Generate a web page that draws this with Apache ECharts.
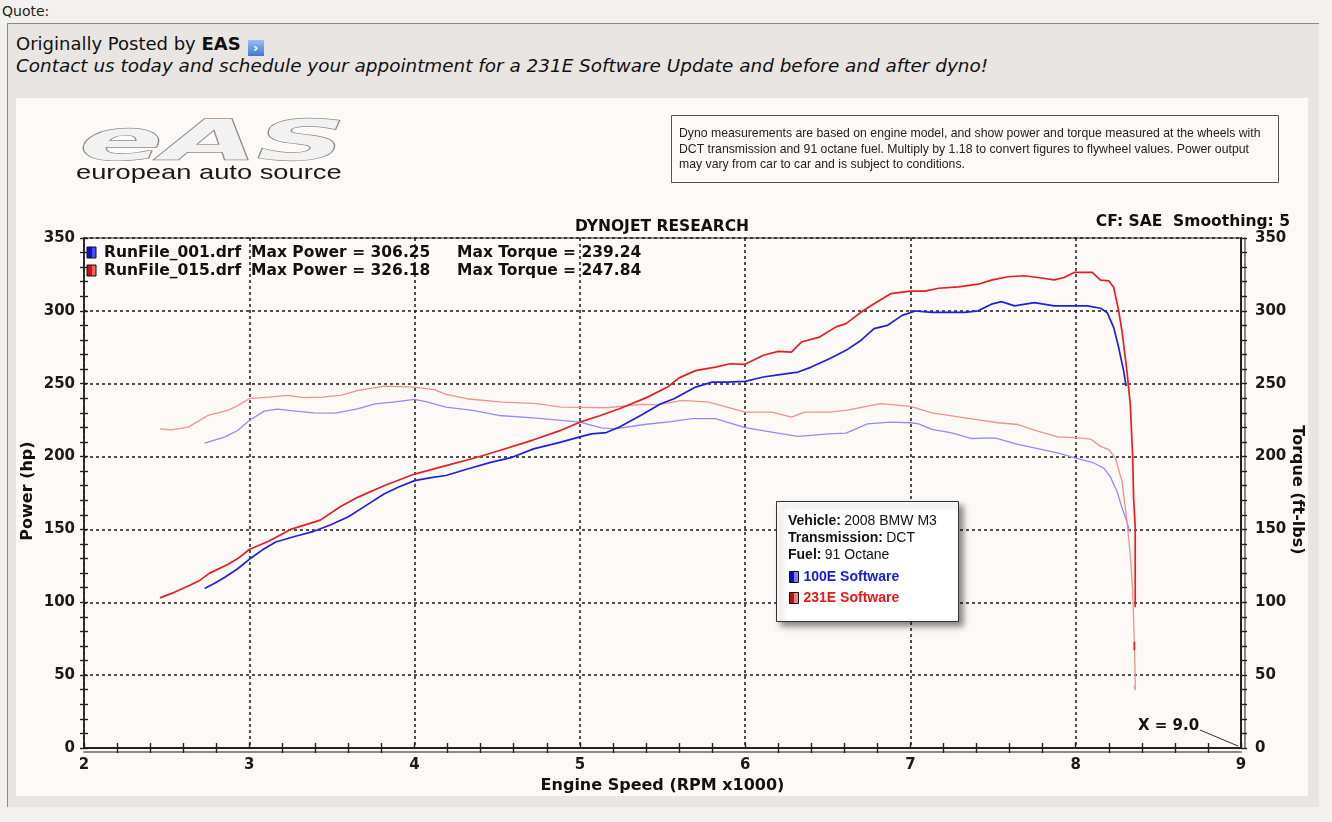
<!DOCTYPE html>
<html>
<head>
<meta charset="utf-8">
<script src="https://cdn.jsdelivr.net/npm/echarts@6/dist/echarts.min.js"></script>
<style>
  html,body{margin:0;padding:0;}
  body{width:1332px;height:822px;background:#f3f1ef;position:relative;overflow:hidden;font-family:"DejaVu Sans",Verdana,sans-serif;color:#111;}
  #quoteLbl{position:absolute;left:2px;top:3px;font-size:14px;color:#222;}
  #box{position:absolute;left:7px;top:23px;width:1311px;height:783px;background:#e8e5e3;border-top:1px solid #8a8a8a;border-left:1px solid #8a8a8a;}
  #posted{position:absolute;left:16px;top:33px;font-size:18px;color:#111;}
  #posted b{font-weight:bold;}
  #icon{display:inline-block;width:16px;height:16px;vertical-align:-2px;margin-left:7px;background:linear-gradient(#9cc0ec,#3f78c8);color:#fff;font-size:13px;line-height:16px;text-align:center;font-weight:bold;}
  #contact{position:absolute;left:16px;top:55px;font-size:18.4px;font-style:italic;color:#111;}
  #chart{position:absolute;left:16px;top:98px;width:1292px;height:698px;background:#fdf9f6;}
</style>
</head>
<body>
<div id="quoteLbl">Quote:</div>
<div id="box"></div>
<div id="posted">Originally Posted by <b>EAS</b><span id="icon">›</span></div>
<div id="contact">Contact us today and schedule your appointment for a 231E Software Update and before and after dyno!</div>
<div id="chart"></div>
<script>
// ---- data ----
const bluePowerRpm = [2.73,2.79,2.85,2.93,3.0,3.08,3.16,3.28,3.39,3.49,3.6,3.7,3.815,3.9,4.0,4.1,4.19,4.32,4.46,4.59,4.72,4.885,5.0,5.07,5.16,5.24,5.37,5.49,5.57,5.7,5.8,5.89,6.0,6.11,6.22,6.32,6.4,6.51,6.61,6.7,6.78,6.86,6.95,7.03,7.13,7.23,7.33,7.41,7.49,7.55,7.63,7.75,7.87,8.0,8.07,8.15,8.19,8.23,8.26,8.29,8.305];
const bluePower    = [109.5,113,117,123,129.5,136,141.4,145.3,148.7,153,158.7,166,174.3,179,183.5,185.5,187,191.5,196,199.5,205.3,209.9,213.5,215.6,216.5,220.3,228.3,236.3,239.7,247.7,251.1,251.1,251.6,254.6,256.4,258,261.4,267.2,272.9,279.7,287.8,290,296.9,299.9,298.9,298.9,298.9,300,304.6,306.3,303.4,305.7,303.4,303.4,303.4,301.8,298.9,288.5,274.8,258.7,248.4];

const redPowerRpm = [2.46,2.55,2.64,2.7,2.76,2.87,2.93,3.0,3.12,3.25,3.43,3.55,3.655,3.815,4.0,4.19,4.38,4.51,4.72,4.885,5.0,5.12,5.24,5.41,5.53,5.6,5.7,5.82,5.91,6.0,6.11,6.2,6.28,6.34,6.45,6.55,6.61,6.7,6.78,6.88,7.0,7.09,7.17,7.29,7.41,7.49,7.59,7.69,7.77,7.87,7.93,7.99,8.1,8.15,8.2,8.23,8.26,8.28,8.31,8.33,8.345,8.35,8.36,8.36,8.358,8.355,8.355];
const redPower    = [103,107,111.7,115,120,125.9,130,136.2,142,150,156.4,165.6,172,180,188,193.8,199.5,204,211.5,218,223.6,228,232.8,240.8,247.7,254,259,261.4,263.7,263.3,269.5,272.2,271.7,278.6,282,289,291.2,299,304.9,311.8,313.5,313.5,315.5,316.5,318.3,321.1,323.4,324.1,322.9,321.3,322.9,326.4,326.4,321.1,320.6,316,300,286,258.7,235.8,199.5,172,151.6,96.6,'-',73,67];

const blueTorqueRpm = [2.73,2.85,2.93,3.0,3.09,3.17,3.28,3.39,3.52,3.655,3.76,3.87,4.0,4.08,4.19,4.35,4.51,4.72,4.885,5.0,5.13,5.21,5.39,5.55,5.68,5.82,6.0,6.16,6.32,6.51,6.61,6.74,6.88,7.0,7.05,7.13,7.25,7.37,7.51,7.65,7.77,7.89,8.0,8.11,8.17,8.21,8.25,8.28,8.31,8.33];
const blueTorque    = [209.2,213.3,217.9,224.8,231.2,232.6,231.2,230,229.8,232.8,236.2,237.4,239.2,237.4,234,231.7,228.2,226.6,224.8,223.7,219.7,219,222,224,226,226,219.8,216.8,213.8,215.6,216.1,222.5,223.7,223.2,222.5,218.6,216.3,212.4,212.8,208.3,205.5,202.5,199,195.6,192,186,176,165,155,148];

const redTorqueRpm = [2.46,2.53,2.63,2.75,2.87,2.93,3.0,3.12,3.23,3.33,3.44,3.55,3.66,3.82,4.0,4.12,4.19,4.33,4.53,4.74,4.885,5.0,5.16,5.37,5.47,5.62,5.78,6.0,6.16,6.28,6.36,6.51,6.61,6.82,7.0,7.13,7.33,7.53,7.65,7.77,7.89,8.0,8.09,8.15,8.2,8.24,8.28,8.31,8.33,8.345,8.353,8.36,8.36,8.353];
const redTorque    = [219,218.3,220.2,228.2,231.7,235,239.7,240.8,242,240.4,240.8,242,245.4,248.4,247.7,245.9,242.7,239.5,237.4,236.3,234,233.8,233.5,235.8,235.5,238.6,237.4,230.5,230.5,227.1,230.5,230.5,231.7,236.3,234.4,230,226.6,223.2,222,217.4,213.5,213,212,207,204.8,199,183,155.5,132.6,107.3,77.5,50,39.7,43];

const runFiles  = ['RunFile_001.drf', 'RunFile_015.drf'];
const maxPower  = ['306.25', '326.18'];
const maxTorque = ['239.24', '247.84'];
const softwareNames = ['100E Software', '231E Software'];
const axisNames = {x:'Engine Speed (RPM x1000)', left:'Power (hp)', right:'Torque (ft-lbs)'};
const infoLines = [['Vehicle:', '2008 BMW M3'], ['Transmission:', 'DCT'], ['Fuel:', '91 Octane']];
const disclaimer = [
  'Dyno measurements are based on engine model, and show power and torque measured at the wheels with',
  'DCT transmission and 91 octane fuel. Multiply by 1.18 to convert figures to flywheel values. Power output',
  'may vary from car to car and is subject to conditions.'
];
const xTicks = [2, 9, 1];      // min, max, interval
const yTicks = [0, 350, 50];

function pairs(xs, ys){ return xs.map((x,i)=>[x, ys[i]]); }

// ---- colours ----
const BLUE = '#2020dc', RED = '#e61e24', LBLUE = '#8e8ef2', LRED = '#f29090';
const F = '"DejaVu Sans", Verdana, sans-serif';
const A = '"Liberation Sans", Arial, sans-serif';

const chart = echarts.init(document.getElementById('chart'), null, {renderer:'canvas'});

const axisLabel = {fontFamily:F, fontWeight:'bold', fontSize:15, color:'#1a1a1a'};
const dashed = {color:'#1a1a1a', width:1.5, type:[3,3]};
const legendFont = 'bold 15.5px "DejaVu Sans"';
const nameFont = 'bold 16px "DejaVu Sans"';
function halfIcon(dark, light){
  return {type:'linear', x:0, y:0, x2:1, y2:0, colorStops:[{offset:0, color:dark},{offset:0.5, color:dark},{offset:0.5, color:light},{offset:1, color:light}]};
}

const option = {
  animation:false,
  backgroundColor:'#fdf9f6',
  title:[
    {text:'DYNOJET RESEARCH', left:'center', top:116, textStyle:{fontFamily:F, fontWeight:'bold', fontSize:15.5, color:'#111'}},
    {text:'CF: SAE  Smoothing: 5', right:13, top:111, textStyle:{fontFamily:F, fontWeight:'bold', fontSize:15.5, color:'#111'}}
  ],
  grid:{left:68, top:140, right:67, bottom:48, containLabel:false, outerBoundsMode:'none', show:true, borderColor:'#222', borderWidth:1.2, backgroundColor:'transparent'},
  legend:{
    orient:'vertical', left:773, top:472, padding:0, itemWidth:9, itemHeight:11, itemGap:7, z:20,
    data:[
      {name:softwareNames[0], icon:'rect', itemStyle:{color:halfIcon('#1010b0','#8080ff'), borderColor:'#111', borderWidth:1}, textStyle:{color:'#1818e0'}},
      {name:softwareNames[1], icon:'rect', itemStyle:{color:halfIcon('#c01010','#ff8080'), borderColor:'#111', borderWidth:1}, textStyle:{color:'#e81818'}}
    ],
    textStyle:{fontFamily:A, fontWeight:'bold', fontSize:14}
  },
  xAxis:[{
    type:'value', min:xTicks[0], max:xTicks[1], interval:xTicks[2],
    name:axisNames.x, nameLocation:'middle', nameGap:26,
    nameTextStyle:{fontFamily:F, fontWeight:'bold', fontSize:16, color:'#111'},
    axisLine:{show:true, onZero:false, lineStyle:{color:'#222', width:2, shadowColor:'#8a8a8a', shadowOffsetY:4, shadowBlur:0}},
    axisTick:{show:false},
    minorTick:{show:true, splitNumber:5, length:5, lineStyle:{color:'#222', width:1.4}},
    axisLabel:Object.assign({margin:10}, axisLabel),
    splitLine:{show:true, lineStyle:dashed}
  },{
    type:'value', min:xTicks[0], max:xTicks[1], interval:xTicks[2], position:'bottom',
    axisLine:{show:false}, axisLabel:{show:false}, splitLine:{show:false},
    axisTick:{show:true, inside:true, length:5, lineStyle:{color:'#222', width:1.4}},
    minorTick:{show:true, splitNumber:5, length:5, lineStyle:{color:'#222', width:1.4}}
  }],
  yAxis:[{
    type:'value', min:yTicks[0], max:yTicks[1], interval:yTicks[2], position:'left',
    axisLine:{show:true, lineStyle:{color:'#222', width:1.6}},
    axisTick:{show:true, length:4, lineStyle:{color:'#222', width:1.4}},
    minorTick:{show:true, splitNumber:5, length:4, lineStyle:{color:'#222', width:1.4}},
    axisLabel:Object.assign({margin:9}, axisLabel),
    splitLine:{show:true, lineStyle:dashed}
  },{
    type:'value', min:yTicks[0], max:yTicks[1], interval:yTicks[2], position:'right',
    axisLine:{show:true, lineStyle:{color:'#222', width:2, shadowColor:'#8a8a8a', shadowOffsetX:4, shadowBlur:0}},
    axisTick:{show:true, length:6, lineStyle:{color:'#222', width:1.4}},
    minorTick:{show:true, splitNumber:5, length:6, lineStyle:{color:'#222', width:1.4}},
    axisLabel:Object.assign({margin:14}, axisLabel),
    splitLine:{show:false}
  },{
    type:'value', min:yTicks[0], max:yTicks[1], interval:yTicks[2], position:'left', offset:0,
    axisLine:{show:false}, axisLabel:{show:false}, splitLine:{show:false},
    axisTick:{show:true, inside:true, length:4, lineStyle:{color:'#222', width:1.4}},
    minorTick:{show:true, splitNumber:5, length:4, lineStyle:{color:'#222', width:1.4}}
  }],
  series:[
    {name:'100E Torque', type:'line', yAxisIndex:1, data:pairs(blueTorqueRpm, blueTorque), showSymbol:false, symbol:'none', lineStyle:{color:LBLUE, width:1.3}, itemStyle:{color:LBLUE}, z:2},
    {name:'231E Torque', type:'line', yAxisIndex:1, data:pairs(redTorqueRpm, redTorque), showSymbol:false, symbol:'none', lineStyle:{color:LRED, width:1.3}, itemStyle:{color:LRED}, z:2},
    {name:softwareNames[0], type:'line', data:pairs(bluePowerRpm, bluePower), showSymbol:false, symbol:'none', lineStyle:{color:BLUE, width:1.7}, itemStyle:{color:BLUE}, z:3},
    {name:softwareNames[1], type:'line', data:pairs(redPowerRpm, redPower), showSymbol:false, symbol:'none', connectNulls:false, lineStyle:{color:RED, width:1.7}, itemStyle:{color:RED}, z:3}
  ],
  graphic:[
    // y-axis names
    {type:'text', x:12, y:393, rotation:Math.PI/2, style:{text:axisNames.left, font:nameFont, fill:'#111', align:'center', verticalAlign:'middle'}},
    {type:'text', x:1281, y:392, rotation:-Math.PI/2, style:{text:axisNames.right, font:nameFont, fill:'#111', align:'center', verticalAlign:'middle'}},
    // logo
    {type:'text', left:62, top:18, scaleX:2.45, scaleY:1.12, style:{text:'eAS', font:'italic bold 50px "DejaVu Sans"', fill:'#f2f2f2', stroke:'#8c8c8c', lineWidth:1.2, shadowColor:'rgba(0,0,0,0.25)', shadowBlur:3, shadowOffsetX:2, shadowOffsetY:2}},
    {type:'text', left:60, top:65, scaleX:1.3, style:{text:'european auto source', font:'21px "Liberation Sans", Arial', fill:'#1a1a1a'}},
    // disclaimer box
    {type:'rect', shape:{x:655.5, y:17.5, width:607, height:67}, style:{fill:'none', stroke:'#555', lineWidth:1}},
    {type:'text', left:663, top:28, style:{text:disclaimer.join('\n'), font:'12.25px "Liberation Sans", Arial', fill:'#222', lineHeight:15.5}},
    // legend lines at top-left of plot
    {type:'rect', shape:{x:71, y:149, width:9, height:11}, style:{fill:halfIcon('#1010c8','#4d4dff'), stroke:'#111', lineWidth:1}},
    {type:'rect', shape:{x:71, y:167, width:9, height:11}, style:{fill:halfIcon('#d01010','#ff6060'), stroke:'#111', lineWidth:1}},
    {type:'text', left:88, top:147, style:{text:runFiles[0], font:legendFont, fill:'#111'}},
    {type:'text', left:88, top:165, style:{text:runFiles[1], font:legendFont, fill:'#111'}},
    {type:'text', left:235, top:147, style:{text:'Max Power = ' + maxPower[0], font:legendFont, fill:'#111'}},
    {type:'text', left:235, top:165, style:{text:'Max Power = ' + maxPower[1], font:legendFont, fill:'#111'}},
    {type:'text', left:441, top:147, style:{text:'Max Torque = ' + maxTorque[0], font:legendFont, fill:'#111'}},
    {type:'text', left:441, top:165, style:{text:'Max Torque = ' + maxTorque[1], font:legendFont, fill:'#111'}},
    // info box
    {type:'rect', z:10, shape:{x:760.5, y:403.5, width:182, height:120}, style:{fill:'#ffffff', stroke:'#333', lineWidth:1, shadowColor:'rgba(0,0,0,0.45)', shadowBlur:6, shadowOffsetX:4, shadowOffsetY:4}},
    {type:'text', z:11, left:772, top:416, style:{
      text: infoLines.map(l=>'{b|'+l[0]+'} {n|'+l[1]+'}').join('\n'),
      rich:{b:{font:'bold 14px "Liberation Sans", Arial', fill:'#111', lineHeight:17}, n:{font:'14px "Liberation Sans", Arial', fill:'#111', lineHeight:17}}
    }},
    // X = 9.0 marker
    {type:'text', left:1122, top:621, style:{text:'X = 9.0', font:'bold 15px "DejaVu Sans"', fill:'#111'}},
    {type:'line', shape:{x1:1184, y1:632, x2:1222, y2:648}, style:{stroke:'#333', lineWidth:1}}
  ]
};
chart.setOption(option);
</script>
</body>
</html>
